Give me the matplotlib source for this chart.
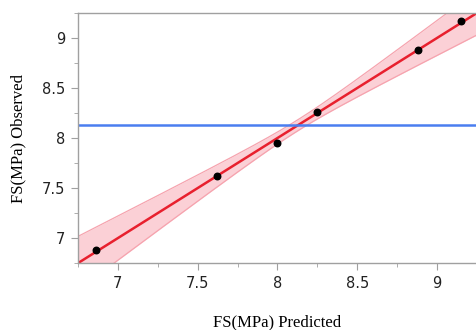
import matplotlib
matplotlib.use("Agg")
import matplotlib.pyplot as plt
import numpy as np

predicted = np.array([6.86, 7.62, 8.00, 8.25, 8.88, 9.15])
observed = np.array([6.88, 7.62, 7.95, 8.26, 8.88, 9.17])
xlim = (6.75, 9.245)
ylim = (6.75, 9.25)
ticks = [7, 7.5, 8, 8.5, 9]
tick_labels = ["7", "7.5", "8", "8.5", "9"]
# confidence band: half width at the mean and its growth
ci_center = 0.055
ci_growth = 0.19

slope, intercept = np.polyfit(predicted, observed, 1)
xm = predicted.mean()
xx = np.linspace(xlim[0], xlim[1], 200)
yy = slope * xx + intercept
half = np.sqrt(ci_center ** 2 + (ci_growth * (xx - xm)) ** 2)

fig = plt.figure(figsize=(4.77, 3.3), dpi=100)
ax = fig.add_axes([0.1635, 0.203, 0.8365, 0.7576])

ax.fill_between(xx, yy - half, yy + half, color="#fbd0d6", lw=0)
ax.plot(xx, yy + half, color="#f6a3ae", lw=0.9)
ax.plot(xx, yy - half, color="#f6a3ae", lw=0.9)
ax.plot(xx, yy, color="#e8202e", lw=1.8)
ax.axhline(observed.mean(), color="#4a7ef0", lw=1.8)
ax.scatter(predicted, observed, color="black", s=22, zorder=5)

ax.set_xlim(*xlim)
ax.set_ylim(*ylim)
ax.set_xticks(ticks)
ax.set_xticklabels(tick_labels)
ax.set_yticks(ticks)
ax.set_yticklabels(tick_labels)
ax.set_xticks(np.arange(6.75, 9.3, 0.25), minor=True)
ax.set_yticks(np.arange(6.75, 9.3, 0.25), minor=True)

for side in ["left", "bottom", "top"]:
    ax.spines[side].set_color("#a0a0a0")
    ax.spines[side].set_linewidth(1.0)
ax.spines["right"].set_visible(False)
ax.tick_params(which="major", length=5, color="#a0a0a0", labelsize=10.5,
               labelcolor="#222222", pad=4)
ax.tick_params(which="minor", length=3, color="#a0a0a0")

ax.set_xlabel("FS(MPa) Predicted", fontfamily="Liberation Serif", fontsize=12,
              labelpad=17)
ax.set_ylabel("FS(MPa) Observed", fontfamily="Liberation Serif", fontsize=12,
              labelpad=11)

fig.savefig("out.png", dpi=100)
